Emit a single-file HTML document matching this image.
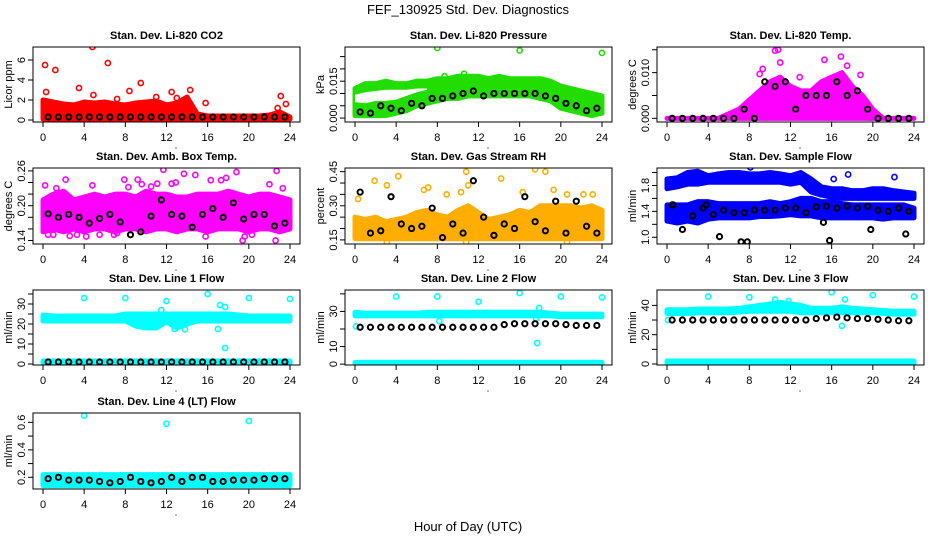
<!DOCTYPE html>
<html><head><meta charset="utf-8"><style>
html,body{margin:0;padding:0;background:#fff;}
svg{display:block;font-family:"Liberation Sans",Arial,sans-serif;}
</style></head><body>
<svg id="chart" width="936" height="540" viewBox="0 0 936 540" xmlns="http://www.w3.org/2000/svg">
<text x="468" y="14" text-anchor="middle" font-size="13">FEF_130925  Std. Dev. Diagnostics</text>
<text x="468" y="531" text-anchor="middle" font-size="13">Hour of Day (UTC)</text>
</svg>
<script>
const HOURS=[0,1,2,3,4,5,6,7,8,9,10,11,12,13,14,15,16,17,18,19,20,21,22,23,24];
const MEAN_HOURS=[0.5,1.5,2.5,3.5,4.5,5.5,6.5,7.5,8.5,9.5,10.5,11.5,12.5,13.5,14.5,15.5,16.5,17.5,18.5,19.5,20.5,21.5,22.5,23.5];
const X_TICKS=[0,4,8,12,16,20,24];

// CO2
const co2BandLo=[0.1,0.1,0.1,0.1,0.1,0.1,0.1,0.1,0.1,0.1,0.1,0.1,0.1,0.1,0.1,0.1,0.1,0.1,0.1,0.1,0.1,0.1,0.1,0.1,0.1];
const co2BandHi=[2.0,1.8,1.6,1.5,1.8,1.7,1.8,1.6,1.5,1.7,1.8,1.9,1.5,1.7,2.3,0.6,0.4,0.4,0.4,0.4,0.4,0.4,0.5,0.8,0.3];
const co2OutX=[0.2,1.2,4.8,6.3,3.5,8.4,9.5,12.5,14.3,15.8,23.1,23.6,22.8,4.9,7.2,11,13,0.3];
const co2OutY=[5.5,5.0,7.3,5.7,3.2,2.9,3.7,2.8,3.0,1.7,2.4,1.6,1.2,2.5,2.1,2.3,2.2,2.8];
const co2Mean=[0.3,0.3,0.3,0.3,0.3,0.3,0.3,0.3,0.3,0.3,0.3,0.3,0.3,0.3,0.3,0.3,0.3,0.3,0.3,0.3,0.3,0.3,0.3,0.3];
// Pressure
const presBandLo=[0.001,0.001,0.001,0.001,0.002,0.003,0.005,0.006,0.007,0.008,0.008,0.009,0.009,0.009,0.009,0.009,0.009,0.009,0.008,0.007,0.004,0.003,0.002,0.001,0.002];
const presBandHi=[0.012,0.014,0.014,0.015,0.014,0.014,0.015,0.015,0.016,0.016,0.017,0.017,0.017,0.016,0.017,0.016,0.016,0.016,0.016,0.015,0.013,0.012,0.011,0.010,0.009];
const presGapHours=[0,1,2,3,4,5,6,7];
const presGapLo=[0.0065,0.006,0.007,0.007,0.0075,0.009,0.0105,0.0115];
const presGapHi=[0.0095,0.0105,0.011,0.0115,0.0115,0.0115,0.012,0.012];
const presOutX=[8,16,24,8.7,10.6];
const presOutY=[0.0285,0.0275,0.0265,0.017,0.018];
const presMean=[0.0025,0.002,0.005,0.004,0.003,0.006,0.005,0.008,0.008,0.009,0.010,0.011,0.009,0.010,0.010,0.010,0.010,0.010,0.009,0.008,0.006,0.005,0.003,0.004];
// Temp
const tempBandLo=[0,0,0,0,0,0,0,0,0,0,0,0,0,0,0,0,0,0,0,0,0,0,0,0,0];
const tempBandHi=[0,0,0,0,0,0,0.001,0.002,0.004,0.006,0.008,0.009,0.007,0.006,0.006,0.008,0.009,0.010,0.007,0.005,0.002,0,0,0,0];
const tempOutX=[10.5,10.8,15.3,16.9,11,9.3,17.5,9.0,18.8,12.9];
const tempOutY=[0.0148,0.015,0.0128,0.0135,0.0122,0.0108,0.0115,0.0097,0.0095,0.009];
const tempMean=[0,0,0,0,0,0,0,0.002,0.0,0.008,0.007,0.008,0.002,0.005,0.005,0.005,0.008,0.005,0.006,0.002,0,0,0,0];
// Amb box temp
const ambBandLo=[0.155,0.16,0.155,0.16,0.155,0.16,0.16,0.155,0.16,0.16,0.155,0.16,0.16,0.155,0.16,0.16,0.155,0.16,0.16,0.16,0.155,0.16,0.16,0.155,0.16];
const ambBandHi=[0.21,0.22,0.225,0.21,0.215,0.22,0.215,0.22,0.22,0.215,0.225,0.22,0.22,0.215,0.215,0.22,0.22,0.22,0.225,0.22,0.215,0.22,0.22,0.215,0.21];
const ambOutX=[0.2,0.5,1.0,1.3,2.2,2.6,3.3,4.2,4.8,5.5,6.9,7.2,7.9,8.3,9.2,9.6,10.5,11.1,11.7,12.9,13.7,14.8,16.3,17.3,17.8,18.8,19.4,19.6,20.3,22.0,22.7,22.6,23.3,12.5,15.8];
const ambOutY=[0.235,0.15,0.15,0.23,0.245,0.148,0.15,0.147,0.235,0.15,0.15,0.153,0.245,0.232,0.245,0.237,0.233,0.238,0.262,0.24,0.255,0.253,0.244,0.244,0.248,0.258,0.14,0.147,0.15,0.237,0.26,0.14,0.23,0.238,0.147];
const ambMean=[0.186,0.18,0.185,0.18,0.17,0.178,0.185,0.172,0.15,0.155,0.182,0.21,0.185,0.182,0.163,0.185,0.195,0.18,0.205,0.177,0.185,0.185,0.165,0.17];
// Gas stream RH
const rhBandLo=[0.155,0.155,0.155,0.155,0.155,0.155,0.155,0.155,0.155,0.155,0.155,0.155,0.155,0.155,0.155,0.155,0.155,0.155,0.155,0.155,0.155,0.155,0.155,0.155,0.155];
const rhBandHi=[0.25,0.24,0.25,0.23,0.24,0.25,0.27,0.28,0.26,0.25,0.28,0.3,0.27,0.24,0.25,0.26,0.28,0.27,0.3,0.3,0.3,0.3,0.29,0.3,0.28];
const rhOutX=[0.3,1.9,3.1,4.2,6.7,7.1,8.9,10.3,10.8,11,14.2,16.3,17.5,18.5,19.3,20.6,22.2,23.1,10.8,20.6,3.1];
const rhOutY=[0.33,0.41,0.39,0.43,0.37,0.38,0.35,0.36,0.45,0.39,0.42,0.36,0.46,0.45,0.37,0.35,0.35,0.35,0.14,0.14,0.14];
const rhMean=[0.36,0.18,0.19,0.34,0.22,0.2,0.21,0.29,0.16,0.22,0.18,0.41,0.25,0.17,0.22,0.2,0.34,0.23,0.19,0.32,0.18,0.32,0.21,0.18];
// Sample flow
const flowLoBandLo=[1.25,1.22,1.25,1.22,1.28,1.3,1.3,1.3,1.3,1.32,1.32,1.33,1.35,1.33,1.33,1.3,1.3,1.3,1.3,1.3,1.3,1.28,1.3,1.3,1.3];
const flowLoBandHi=[1.5,1.5,1.5,1.55,1.55,1.52,1.52,1.52,1.52,1.52,1.55,1.52,1.55,1.6,1.6,1.55,1.55,1.52,1.5,1.5,1.5,1.5,1.5,1.5,1.45];
const flowHiBandLo=[1.75,1.78,1.82,1.82,1.85,1.85,1.85,1.85,1.85,1.85,1.85,1.85,1.82,1.85,1.7,1.65,1.62,1.6,1.6,1.6,1.6,1.6,1.6,1.6,1.6];
const flowHiBandHi=[1.9,1.92,2.0,2.02,1.95,1.98,2.0,2.0,1.98,1.98,2.0,1.98,1.95,2.0,1.9,1.78,1.75,1.75,1.72,1.72,1.75,1.75,1.72,1.7,1.68];
const flowOutX=[8.1,17.6,22.1,16.2];
const flowOutY=[2.08,1.97,1.93,1.9];
const flowMean=[1.5,1.12,1.33,1.45,1.35,1.42,1.38,1.38,1.42,1.42,1.42,1.45,1.45,1.38,1.47,1.48,1.45,1.48,1.45,1.48,1.42,1.4,1.45,1.4];
const flowBlackOutX=[5.1,7.2,7.8,15.8,23.2,19.8,15.2,0.6,3.8];
const flowBlackOutY=[1.01,0.93,0.93,0.95,1.05,1.12,1.23,1.5,1.5];
// Line 1
const l1BandLo=[21.5,21.5,21.5,21.5,21.5,21.5,21.5,21.5,21.5,19,18,18,21,18,20,21.5,21.5,21.5,21.5,21.5,21.5,21.5,21.5,21.5,21.5];
const l1BandHi=[24.5,24,24,24,24,24,24,24,25,25,25,25,25,25,25,25,25,25,25,24.5,24,24,24,24,24];
const l1LowLo=[0.5,0.5,0.5,0.5,0.5,0.5,0.5,0.5,0.5,0.5,0.5,0.5,0.5,0.5,0.5,0.5,0.5,0.5,0.5,0.5,0.5,0.5,0.5,0.5,0.5];
const l1LowHi=[1.5,1.5,1.5,1.5,1.5,1.5,1.5,1.5,1.5,1.5,1.5,1.5,1.5,1.5,1.5,1.5,1.5,1.5,1.5,1.5,1.5,1.5,1.5,1.5,1.5];
const l1OutX=[4,8,12,16,20,24,17.2,17.7,17.7,17,12.8,13.8,11.5];
const l1OutY=[33,33,31.5,35,33,32.5,29.5,28.5,8,17.5,17.5,17.3,27];
const l1Mean=[1,1,1,1,1,1,1,1,1,1,1,1,1,1,1,1,1,1,1,1,1,1,1,1];
// Line 2
const l2BandLo=[27.5,27.5,27.5,27.5,27.5,27.5,27.5,27.5,27.5,27.5,27.5,27.5,27.5,27.5,27.5,27.5,27.5,27.5,27.5,27.5,27,27,27,27,27];
const l2BandHi=[29.5,29,29,29,29,29,29,29.5,29.5,29.5,29.5,29.5,29.5,29.5,29.5,29.5,29.5,29.5,29.5,29,28.5,28.5,28.5,28.5,28.5];
const l2LowLo=[0.2,0.2,0.2,0.2,0.2,0.2,0.2,0.2,0.2,0.2,0.2,0.2,0.2,0.2,0.2,0.2,0.2,0.2,0.2,0.2,0.2,0.2,0.2,0.2,0.2];
const l2LowHi=[1,1,1,1,1,1,1,1,1,1,1,1,1,1,1,1,1,1,1,1,1,1,1,1,1];
const l2OutX=[4,8,12,16,20,24,17.7,17.9,17.6,8.2,0.1];
const l2OutY=[38.5,38.5,35.5,40.5,38.5,38,12,32,26,24.5,21.5];
const l2Mean=[21,21,21,21,21,21,21,21,21,21,21,21,21,21,22.5,23,23,23,23,23,22.5,22,22,22];
// Line 3
const l3BandLo=[34.5,34.5,34.5,35,35,35,35,35.5,36,36,36,36,36,35,35,35,35,35,35,35,35,34.5,34,34,34];
const l3BandHi=[37,37,37,37.5,37.5,37.5,37.5,38,39,40,41,42,41,40,38,38,38,39,38,37.5,37,36.5,36,36,36];
const l3LowLo=[0.5,0.5,0.5,0.5,0.5,0.5,0.5,0.5,0.5,0.5,0.5,0.5,0.5,0.5,0.5,0.5,0.5,0.5,0.5,0.5,0.5,0.5,0.5,0.5,0.5];
const l3LowHi=[2,2,2,2,2,2,2,2,2,2,2,2,2,2,2,2,2,2,2,2,2,2,2,2,2];
const l3OutX=[4,8,16,20,24,17,17.3,10.5,11.8,0.1];
const l3OutY=[46,45.5,49,47,46,26,44,44,43,30];
const l3Mean=[30,30,30,30,30,30,30,30,30,30,30,30,30,30,31,31.5,32,31.5,31,31,30.5,30,29.5,29.5];
// Line 4
const l4BandLo=[0.14,0.14,0.14,0.14,0.14,0.14,0.14,0.14,0.14,0.14,0.14,0.14,0.14,0.14,0.14,0.14,0.14,0.14,0.14,0.14,0.14,0.14,0.14,0.14,0.14];
const l4BandHi=[0.22,0.22,0.22,0.22,0.22,0.22,0.22,0.22,0.22,0.22,0.22,0.22,0.22,0.22,0.22,0.22,0.22,0.22,0.22,0.22,0.22,0.22,0.22,0.22,0.22];
const l4OutX=[4,12,20,23.7];
const l4OutY=[0.65,0.59,0.61,0.12];
const l4Mean=[0.19,0.2,0.18,0.18,0.18,0.17,0.16,0.17,0.2,0.17,0.16,0.17,0.2,0.17,0.2,0.2,0.17,0.17,0.18,0.18,0.18,0.19,0.19,0.19];

// tick arrays
const co2Ticks=[0,2,4,6], co2Labels=["0","2","4","6"];
const presTicks=[0,0.005,0.01,0.015,0.02,0.025], presLabels=["0.000","","","0.015","",""];
const tempTicks=[0,0.005,0.01,0.015], tempLabels=["0.000","","0.010",""];
const ambTicks=[0.14,0.16,0.18,0.20,0.22,0.24,0.26], ambLabels=["0.14","","","0.20","","","0.26"];
const rhTicks=[0.15,0.2,0.25,0.3,0.35,0.4,0.45], rhLabels=["0.15","","","0.30","","","0.45"];
const flowTicks=[1.0,1.2,1.4,1.6,1.8,2.0], flowLabels=["1.0","","1.4","","1.8",""];
const l1Ticks=[0,5,10,15,20,25,30,35], l1Labels=["0","","10","","20","","30",""];
const l2Ticks=[0,10,20,30,40], l2Labels=["0","10","","30",""];
const l3Ticks=[0,10,20,30,40], l3Labels=["0","","20","","40"];
const l4Ticks=[0.2,0.3,0.4,0.5,0.6], l4Labels=["0.2","","0.4","","0.6"];

const NS="http://www.w3.org/2000/svg";
const svg=document.getElementById('chart');
function mk(tag,attrs,parent){const e=document.createElementNS(NS,tag);for(const k in attrs)e.setAttribute(k,attrs[k]);(parent||svg).appendChild(e);return e;}

const COLS=[33,345,657], ROWS=[[47,122],[168,244],[290,365],[413,489]];
const panels=[
 {name:'co2',title:'Stan. Dev. Li-820 CO2',ylab:'Licor ppm',c:0,r:0,ymin:-0.2,ymax:7.3,color:'#ff0000',bands:[[co2BandLo,co2BandHi]],out:[co2OutX,co2OutY],mean:co2Mean,ticks:co2Ticks,labels:co2Labels},
 {name:'pressure',title:'Stan. Dev. Li-820 Pressure',ylab:'kPa',c:1,r:0,ymin:-0.0016,ymax:0.0289,color:'#22dd00',bands:[[presBandLo,presBandHi]],gap:[presGapHours,presGapLo,presGapHi],out:[presOutX,presOutY],mean:presMean,ticks:presTicks,labels:presLabels},
 {name:'temp',title:'Stan. Dev. Li-820 Temp.',ylab:'degrees C',c:2,r:0,ymin:-0.0008,ymax:0.0156,color:'#ff00ff',bands:[[tempBandLo,tempBandHi]],out:[tempOutX,tempOutY],mean:tempMean,ticks:tempTicks,labels:tempLabels},
 {name:'amb-temp',title:'Stan. Dev. Amb. Box Temp.',ylab:'degrees C',c:0,r:1,ymin:0.134,ymax:0.265,color:'#ff00ff',bands:[[ambBandLo,ambBandHi]],out:[ambOutX,ambOutY],mean:ambMean,ticks:ambTicks,labels:ambLabels},
 {name:'rh',title:'Stan. Dev. Gas Stream RH',ylab:'percent',c:1,r:1,ymin:0.132,ymax:0.466,color:'#ffae00',bands:[[rhBandLo,rhBandHi]],out:[rhOutX,rhOutY],mean:rhMean,ticks:rhTicks,labels:rhLabels},
 {name:'sample-flow',title:'Stan. Dev. Sample Flow',ylab:'ml/min',c:2,r:1,ymin:0.896,ymax:2.07,color:'#0000ff',bands:[[flowLoBandLo,flowLoBandHi],[flowHiBandLo,flowHiBandHi]],out:[flowOutX,flowOutY],mean:flowMean,blackOut:[flowBlackOutX,flowBlackOutY],ticks:flowTicks,labels:flowLabels},
 {name:'line1',title:'Stan. Dev. Line 1 Flow',ylab:'ml/min',c:0,r:2,ymin:-0.5,ymax:37,color:'#00ffff',bands:[[l1BandLo,l1BandHi],[l1LowLo,l1LowHi]],out:[l1OutX,l1OutY],mean:l1Mean,ticks:l1Ticks,labels:l1Labels},
 {name:'line2',title:'Stan. Dev. Line 2 Flow',ylab:'ml/min',c:1,r:2,ymin:-0.5,ymax:42.2,color:'#00ffff',bands:[[l2BandLo,l2BandHi],[l2LowLo,l2LowHi]],out:[l2OutX,l2OutY],mean:l2Mean,ticks:l2Ticks,labels:l2Labels},
 {name:'line3',title:'Stan. Dev. Line 3 Flow',ylab:'ml/min',c:2,r:2,ymin:-0.7,ymax:50.5,color:'#00ffff',bands:[[l3BandLo,l3BandHi],[l3LowLo,l3LowHi]],out:[l3OutX,l3OutY],mean:l3Mean,ticks:l3Ticks,labels:l3Labels},
 {name:'line4',title:'Stan. Dev. Line 4 (LT) Flow',ylab:'ml/min',c:0,r:3,ymin:0.115,ymax:0.668,color:'#00ffff',bands:[[l4BandLo,l4BandHi]],out:[l4OutX,l4OutY],mean:l4Mean,ticks:l4Ticks,labels:l4Labels}
];

panels.forEach(p=>{
  const L=COLS[p.c], R=L+267, T=ROWS[p.r][0], B=ROWS[p.r][1];
  const xs=h=>L+10+h*(247/24);
  const ys=v=>B-(v-p.ymin)/(p.ymax-p.ymin)*(B-T);
  const g=mk('g',{});
  
  
  const clip=mk('clipPath',{id:'clip-'+p.name},g);
  mk('rect',{x:L,y:T,width:R-L,height:B-T},clip);
  const plot=mk('g',{'clip-path':'url(#clip-'+p.name+')'},g);
  p.bands.forEach((bd,i)=>{
    let pts=HOURS.map((h,k)=>xs(h)+','+ys(bd[1][k]));
    pts=pts.concat(HOURS.slice().reverse().map((h,k)=>xs(h)+','+ys(bd[0][HOURS.length-1-k])));
    const poly=mk('polygon',{points:pts.join(' '),fill:p.color,stroke:p.color,'stroke-width':5,'stroke-linejoin':'round'},plot);
    
    
  });
  if(p.gap){
    const [gh,glo,ghi]=p.gap;
    let pts=gh.map((h,k)=>xs(h)+','+ys(ghi[k]));
    pts=pts.concat(gh.slice().reverse().map((h,k)=>xs(h)+','+ys(glo[gh.length-1-k])));
    const gp=mk('polygon',{points:pts.join(' '),fill:'#fff'},plot);
    
    
  }
  p.out[0].forEach((h,k)=>{
    const c=mk('circle',{cx:xs(h),cy:ys(p.out[1][k]),r:2.6,fill:'none',stroke:p.color,'stroke-width':1.6},plot);
    
    
  });
  MEAN_HOURS.forEach((h,k)=>{
    const c=mk('circle',{cx:xs(h),cy:ys(p.mean[k]),r:2.6,fill:'none',stroke:'#000','stroke-width':2},plot);
    
    
  });
  if(p.blackOut){p.blackOut[0].forEach((h,k)=>{
    const c=mk('circle',{cx:xs(h),cy:ys(p.blackOut[1][k]),r:2.6,fill:'none',stroke:'#000','stroke-width':2},plot);
    
    
  });}
  const box=mk('rect',{x:L,y:T,width:R-L,height:B-T,fill:'none',stroke:'#000','stroke-width':1},g);
  
  
  const tt=mk('text',{x:(L+R)/2,y:T-8,'text-anchor':'middle','font-size':11,'font-weight':'bold'},g);
  tt.textContent=p.title;
  
  
  const yl=mk('text',{x:0,y:0,'text-anchor':'middle','font-size':11,transform:'translate('+(L-21)+','+((T+B)/2)+') rotate(-90)'},g);
  yl.textContent=p.ylab;
  
  
  const xa=mk('g',{},g);
  
  
  X_TICKS.forEach(h=>{
    mk('line',{x1:xs(h),x2:xs(h),y1:B,y2:B+5,stroke:'#000'},xa);
    const t=mk('text',{x:xs(h),y:B+19,'text-anchor':'middle','font-size':11},xa);
    t.textContent=String(h);
  });
  mk('circle',{cx:L+143,cy:B+26,r:0.6,fill:'#000'},xa);
  const ya=mk('g',{},g);
  
  
  p.ticks.forEach((v,k)=>{
    const y=ys(v);
    mk('line',{x1:L-5,x2:L,y1:y,y2:y,stroke:'#000'},ya);
    if(p.labels[k]){
      const t=mk('text',{x:0,y:0,'text-anchor':'middle','font-size':11,transform:'translate('+(L-8)+','+y+') rotate(-90)'},ya);
      t.textContent=p.labels[k];
    }
  });
});
</script>
</body></html>
